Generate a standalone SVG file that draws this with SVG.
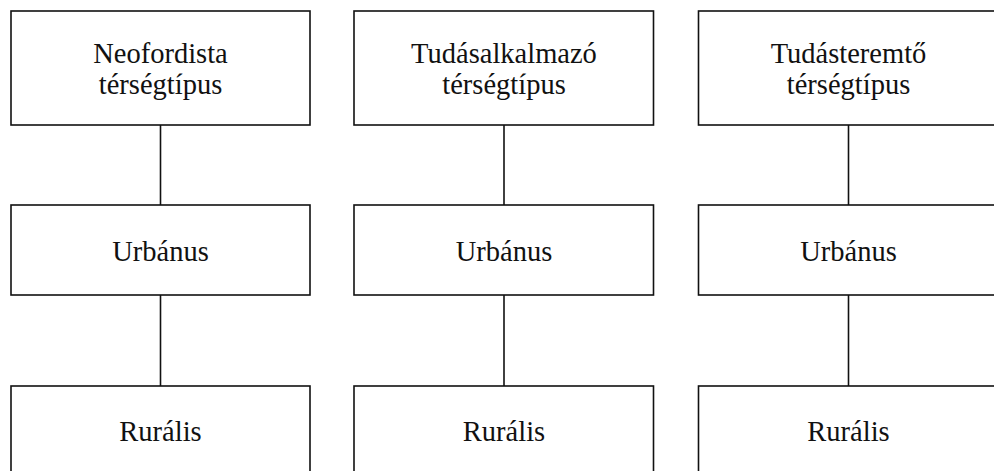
<svg xmlns="http://www.w3.org/2000/svg" width="994" height="471" viewBox="0 0 994 471">
<style>
.box{fill:#fff;stroke:#111;stroke-width:1.6}
.conn{stroke:#111;stroke-width:1.6;fill:none}
text{font-family:"Liberation Serif","Times New Roman",serif;font-size:28.5px;fill:#111;text-anchor:middle}
</style>
<rect width="994" height="471" fill="#fff"/>
<g id="connectors">
<line class="conn" x1="160.5" y1="125" x2="160.5" y2="205"/>
<line class="conn" x1="160.5" y1="295" x2="160.5" y2="386"/>
<line class="conn" x1="504" y1="125" x2="504" y2="205"/>
<line class="conn" x1="504" y1="295" x2="504" y2="386"/>
<line class="conn" x1="848.5" y1="125" x2="848.5" y2="205"/>
<line class="conn" x1="848.5" y1="295" x2="848.5" y2="386"/>
</g>
<g id="neofordista">
<rect class="box" x="11" y="11" width="299" height="114"/>
<text x="160.5" y="62.5">Neofordista</text>
<text x="160.5" y="94">térségtípus</text>
</g>
<g id="urbanus1">
<rect class="box" x="11" y="205" width="299" height="90"/>
<text x="160.5" y="260.5">Urbánus</text>
</g>
<g id="muralis1">
<rect class="box" x="11" y="386" width="299" height="95"/>
<text x="160.5" y="441">Rurális</text>
</g>
<g id="tudasalkalmazo">
<rect class="box" x="354" y="11" width="299.5" height="114"/>
<text x="504" y="62.5">Tudásalkalmazó</text>
<text x="504" y="94">térségtípus</text>
</g>
<g id="urbanus2">
<rect class="box" x="354" y="205" width="299.5" height="90"/>
<text x="504" y="260.5">Urbánus</text>
</g>
<g id="muralis2">
<rect class="box" x="354" y="386" width="299.5" height="95"/>
<text x="504" y="441">Rurális</text>
</g>
<g id="tudasteremto">
<rect class="box" x="698.5" y="11" width="300" height="114"/>
<text x="848.5" y="62.5">Tudásteremtő</text>
<text x="848.5" y="94">térségtípus</text>
</g>
<g id="urbanus3">
<rect class="box" x="698.5" y="205" width="300" height="90"/>
<text x="848.5" y="260.5">Urbánus</text>
</g>
<g id="muralis3">
<rect class="box" x="698.5" y="386" width="300" height="95"/>
<text x="848.5" y="441">Rurális</text>
</g>
</svg>
